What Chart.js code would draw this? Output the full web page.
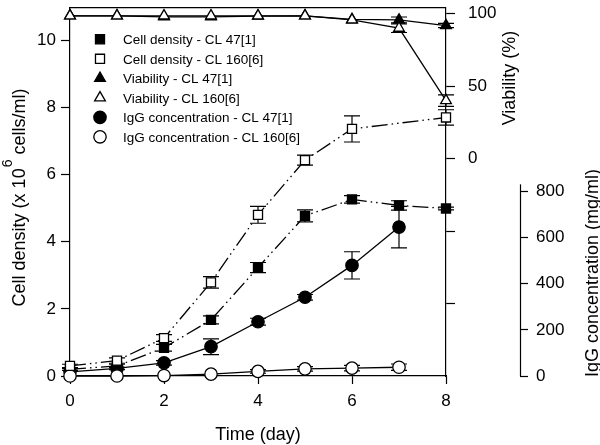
<!DOCTYPE html>
<html>
<head>
<meta charset="utf-8">
<script src="https://cdn.jsdelivr.net/npm/chart.js@4.4.0/dist/chart.umd.min.js"></script>
<style>
  html, body { margin: 0; padding: 0; background: #fff; }
  canvas { display: block; }
</style>
</head>
<body>
<canvas id="chart" width="600" height="445"></canvas>
<script>
const days = [0, 1, 2, 3, 4, 5, 6, 7, 8];

// cell density (x 10^6 cells/ml)
const density47 = [0.2, 0.3, 0.84, 1.67, 3.23, 4.77, 5.26, 5.08, 4.99];
const density47Err = [0.03, 0.05, 0.1, 0.12, 0.15, 0.18, 0.11, 0.14, 0.04];
const density160 = [0.3, 0.46, 1.13, 2.79, 4.8, 6.43, 7.36, null, 7.7];
const density160Err = [0.05, 0.08, 0.1, 0.17, 0.25, 0.15, 0.39, null, 0.23];

// viability (%)
const viab47 = [98.5, 98.5, 97.8, 97.8, 98.3, 98.5, 96, 95.7, 91.8];
const viab47Err = [0, 0, 0, 0, 0, 0, 0, 2, 1.5];
const viab160 = [98.5, 98.5, 98.5, 98.5, 98.5, 98.5, 95.7, 90, 40];
const viab160Err = [0, 0, 0, 0, 0, 0, 0, 3, 4];

// IgG concentration (mg/ml)
const igg47 = [18, 33, 57, 127, 235, 341, 479, 645, null];
const igg47Err = [0, 5, 10, 34, 15, 12, 59, 90, null];
const igg160 = [0, 0, 2, 8, 20, 31, 34, 38, null];
const igg160Err = [0, 0, 0, 0, 8, 10, 12, 14, null];

const dayTicks = [0, 2, 4, 6, 8];
const densityTicks = [0, 2, 4, 6, 8, 10];
const viabTicks = [-100, -50, 0, 50, 100];
const viabLabels = [0, 50, 100];
const iggTicks = [0, 200, 400, 600, 800];

const FONT = '"Liberation Sans", Arial, sans-serif';
Chart.defaults.font.family = FONT;
Chart.defaults.color = '#000';

function pts(vals) {
    return days.map((d, i) => ({ x: d, y: vals[i] }));
}

function series(label, vals, errs, axis, style, filled, dash, order) {
    return {
        label: label,
        data: pts(vals),
        errors: errs,
        yAxisID: axis,
        borderColor: '#000',
        borderWidth: 1.3,
        borderDash: dash,
        pointStyle: style,
        pointRadius: style === 'rect' ? 6.4 : 6.2,
        pointBackgroundColor: filled ? '#000' : '#fff',
        pointBorderColor: '#000',
        pointBorderWidth: 1.3,
        spanGaps: true,
        tension: 0,
        clip: false,
        order: order
    };
}

const dashDotDot = [16, 4, 1.5, 4, 1.5, 4];

const datasets = [
    series('Cell density - CL 47[1]', density47, density47Err, 'y', 'rect', true, dashDotDot, 1),
    series('Cell density - CL 160[6]', density160, density160Err, 'y', 'rect', false, dashDotDot, 0),
    series('Viability - CL 47[1]', viab47, viab47Err, 'y2', 'triangle', true, [], 1),
    series('Viability - CL 160[6]', viab160, viab160Err, 'y2', 'triangle', false, [], 0),
    series('IgG concentration - CL 47[1]', igg47, igg47Err, 'y3', 'circle', true, [], 1),
    series('IgG concentration - CL 160[6]', igg160, igg160Err, 'y3', 'circle', false, [], 0)
];

function fixTicks(list) {
    return function(scale) {
        scale.ticks = list.map(v => ({ value: v }));
    };
}

function fixWidth(w) {
    return function(scale) {
        scale.width = w;
        scale.paddingTop = 0;
        scale.paddingBottom = 0;
    };
}

const tickGrid = len => ({
    display: true,
    drawOnChartArea: false,
    drawTicks: true,
    tickLength: len,
    tickWidth: 1.2,
    tickColor: '#000'
});

const errorBars = {
    id: 'errorBars',
    beforeDatasetsDraw(chart) {
        const ctx = chart.ctx;
        ctx.save();
        ctx.strokeStyle = '#000';
        ctx.lineWidth = 1.2;
        chart.data.datasets.forEach((ds, i) => {
            const meta = chart.getDatasetMeta(i);
            const ys = chart.scales[ds.yAxisID];
            meta.data.forEach((pt, j) => {
                const v = ds.data[j].y;
                const e = ds.errors[j];
                if (v == null || !e) return;
                const x = pt.x;
                const top = ys.getPixelForValue(v + e);
                const bot = ys.getPixelForValue(v - e);
                ctx.beginPath();
                ctx.moveTo(x, top); ctx.lineTo(x, bot);
                ctx.moveTo(x - 8, top); ctx.lineTo(x + 8, top);
                ctx.moveTo(x - 8, bot); ctx.lineTo(x + 8, bot);
                ctx.stroke();
            });
        });
        ctx.restore();
    }
};

const decorations = {
    id: 'decorations',
    afterDraw(chart) {
        const ctx = chart.ctx;
        const area = chart.chartArea;
        ctx.save();
        ctx.strokeStyle = '#000';
        ctx.fillStyle = '#000';
        ctx.lineWidth = 1.2;

        // top of the frame
        ctx.beginPath();
        ctx.moveTo(area.left, area.top);
        ctx.lineTo(area.right, area.top);
        ctx.stroke();

        // short IgG axis line
        const igg = chart.scales.y3;
        ctx.beginPath();
        ctx.moveTo(igg.left + 0.5, igg.getPixelForValue(0));
        ctx.lineTo(igg.left + 0.5, igg.getPixelForValue(830));
        ctx.stroke();

        // axis titles
        ctx.font = '18px ' + FONT;
        ctx.textBaseline = 'alphabetic';
        ctx.textAlign = 'center';
        ctx.fillText('Time (day)', 258, 440);

        ctx.save();
        ctx.translate(515, 78);
        ctx.rotate(-Math.PI / 2);
        ctx.fillText('Viability (%)', 0, 0);
        ctx.restore();

        ctx.save();
        ctx.translate(598, 273);
        ctx.rotate(-Math.PI / 2);
        ctx.fillText('IgG concentration (mg/ml)', 0, 0);
        ctx.restore();

        // left title with superscript
        ctx.save();
        ctx.translate(25, 198);
        ctx.rotate(-Math.PI / 2);
        ctx.textAlign = 'left';
        const partA = 'Cell density (x 10';
        const sup = '6';
        const partB = ' cells/ml)';
        ctx.font = '18px ' + FONT;
        const wa = ctx.measureText(partA).width;
        const wb = ctx.measureText(partB).width;
        ctx.font = '14px ' + FONT;
        const ws = ctx.measureText(sup).width;
        let x0 = -(wa + ws + wb) / 2;
        ctx.font = '18px ' + FONT;
        ctx.fillText(partA, x0, 0);
        ctx.font = '14px ' + FONT;
        ctx.fillText(sup, x0 + wa + 1, -13);
        ctx.font = '18px ' + FONT;
        ctx.fillText(partB, x0 + wa + ws + 1, 0);
        ctx.restore();

        // legend
        ctx.font = '13.5px ' + FONT;
        ctx.textAlign = 'left';
        ctx.textBaseline = 'middle';
        chart.data.datasets.forEach((ds, i) => {
            const y = 39.3 + i * 19.5;
            ctx.fillStyle = ds.pointBackgroundColor;
            ctx.strokeStyle = '#000';
            ctx.lineWidth = 1.3;
            Chart.helpers.drawPoint(ctx, {
                pointStyle: ds.pointStyle,
                radius: ds.pointRadius,
                rotation: 0,
                borderWidth: 1.3
            }, 100, y);
            ctx.fillStyle = '#000';
            ctx.fillText(ds.label, 123, y + 1);
        });
        ctx.restore();
    }
};

new Chart(document.getElementById('chart'), {
    type: 'line',
    data: { datasets: datasets },
    options: {
        responsive: false,
        animation: false,
        events: [],
        layout: { padding: { top: 2, left: 0, right: 0, bottom: 0 } },
        plugins: {
            legend: { display: false },
            tooltip: { enabled: false }
        },
        scales: {
            x: {
                type: 'linear',
                position: 'bottom',
                min: 0,
                max: 8,
                afterBuildTicks: fixTicks(dayTicks),
                afterFit: scale => {
                    scale.height = 69;
                    scale.paddingLeft = 0;
                    scale.paddingRight = 0;
                },
                grid: tickGrid(8),
                border: { display: true, color: '#000', width: 1.2 },
                ticks: { font: { size: 17 }, padding: 7, maxRotation: 0 }
            },
            y: {
                type: 'linear',
                position: 'left',
                min: 0,
                max: 10.97,
                afterBuildTicks: fixTicks(densityTicks),
                afterFit: fixWidth(70),
                grid: tickGrid(9),
                border: { display: true, color: '#000', width: 1.2 },
                ticks: { font: { size: 17 }, padding: 5 }
            },
            y2: {
                type: 'linear',
                position: 'right',
                weight: 0,
                min: -150,
                max: 104.1,
                afterBuildTicks: fixTicks(viabTicks),
                afterFit: fixWidth(74),
                grid: tickGrid(9),
                border: { display: true, color: '#000', width: 1.2 },
                ticks: {
                    font: { size: 17 },
                    padding: 13,
                    callback: v => viabLabels.includes(v) ? String(v) : ''
                }
            },
            y3: {
                type: 'linear',
                position: 'right',
                weight: 1,
                min: 0,
                max: 1595,
                afterBuildTicks: fixTicks(iggTicks),
                afterFit: fixWidth(80),
                grid: tickGrid(8),
                border: { display: false },
                ticks: { font: { size: 17 }, padding: 8 }
            }
        }
    },
    plugins: [errorBars, decorations]
});
</script>
</body>
</html>
